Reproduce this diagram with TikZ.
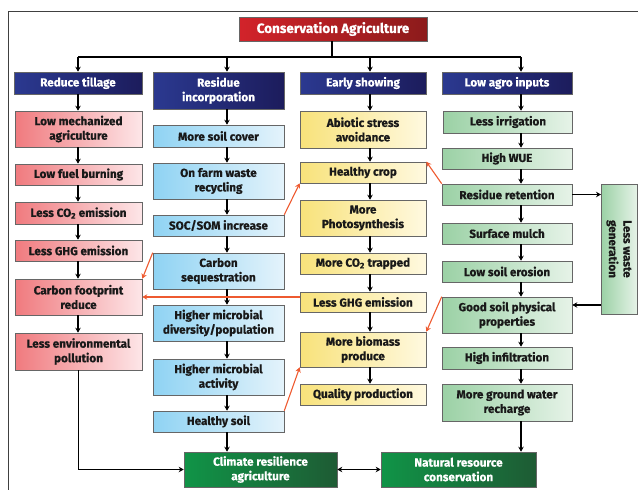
\documentclass[tikz,border=0pt]{standalone}
\usepackage{fontspec}
\setmainfont{Fira Sans}[BoldFeatures={FakeBold=0.6}]
\usetikzlibrary{arrows.meta}
\definecolor{tl}{HTML}{D2232A}\definecolor{tr}{HTML}{8C1B1B}
\definecolor{hl}{HTML}{2B3990}\definecolor{hr}{HTML}{1C1C5C}
\definecolor{rl}{HTML}{F07A7E}\definecolor{rr}{HTML}{FDE6E8}
\definecolor{bl}{HTML}{8FD3F3}\definecolor{br}{HTML}{E4F3FB}
\definecolor{yl}{HTML}{F8E27A}\definecolor{yr}{HTML}{FFF9E0}
\definecolor{gl}{HTML}{9BD1A5}\definecolor{gr}{HTML}{E6F3E8}
\definecolor{dl}{HTML}{109447}\definecolor{dr}{HTML}{1E5B34}
\definecolor{orng}{HTML}{EE5A30}
\newcommand\bx[7]{\node[#6, minimum width=#4pt, minimum height=#5pt] (#1) at (#2,#3) {#7};}
\tikzset{
 box/.style={draw=black!60, line width=0.6pt, align=center, inner sep=0pt,
   font=\bfseries\fontsize{11.7}{14.5}\selectfont, text=black!90},
 titleb/.style={box, left color=tl, right color=tr, text=white, font=\bfseries\fontsize{13.5}{16}\selectfont},
 headb/.style={box, left color=hl, right color=hr, text=white},
 redb/.style={box, left color=rl, right color=rr},
 blueb/.style={box, left color=bl, right color=br},
 yelb/.style={box, left color=yl, right color=yr},
 grnb/.style={box, left color=gl, right color=gr},
 dgrb/.style={box, left color=dl, right color=dr, text=white},
 arr/.style={line width=1.1pt, -{Stealth[length=5pt,width=5.5pt]}},
 oarr/.style={line width=1.1pt, draw=orng, -{Stealth[length=5pt,width=5.5pt]}, orng},
}
\begin{document}
\begin{tikzpicture}[x=1pt,y=-1pt]
\useasboundingbox (0,0) rectangle (638,490);
\draw[black!75, line width=0.8pt] (8,495) -- (8,11) -- (645,11);
\coordinate (c1) at (78,0);
\coordinate (c2) at (227,0);
\coordinate (c3) at (370,0);
\coordinate (c4) at (521,0);
\coordinate (bus) at (0,57);
% title
\bx{title}{333}{29}{188}{24}{titleb}{Conservation Agriculture}
% headers
\bx{h1}{78}{83}{128}{22}{headb}{Reduce tillage}
\bx{h2}{218.5}{90.5}{131}{37}{headb}{Residue\\incorporation}
\bx{h3}{363}{83}{126}{22}{headb}{Early showing}
\bx{h4}{507}{83}{130}{22}{headb}{Low agro inputs}
% column 1
\bx{lowmech}{78.5}{129}{127}{36}{redb}{Low mechanized\\agriculture}
\bx{lowfuel}{78.5}{174.5}{127}{21}{redb}{Low fuel burning}
\bx{lessco}{78.5}{213}{127}{22}{redb}{Less CO\textsubscript{2} emission}
\bx{ghga}{78.5}{250.5}{127}{21}{redb}{Less GHG emission}
\bx{carbfoot}{78.5}{297}{127}{36}{redb}{Carbon footprint\\reduce}
\bx{lessenv}{78.5}{351.5}{127}{37}{redb}{Less environmental\\pollution}
% column 2
\bx{soilcover}{218.5}{136}{131}{22}{blueb}{More soil cover}
\bx{farmwaste}{218.5}{181}{131}{36}{blueb}{On farm waste\\recycling}
\bx{socsom}{218.5}{225.5}{131}{21}{blueb}{SOC/SOM increase}
\bx{carbseq}{218.5}{271}{131}{36}{blueb}{Carbon\\sequestration}
\bx{microdiv}{218.5}{323}{131}{36}{blueb}{Higher microbial\\diversity/population}
\bx{microact}{218.5}{377}{131}{36}{blueb}{Higher microbial\\activity}
\bx{hsoil}{218.5}{421.5}{131}{21}{blueb}{Healthy soil}
% column 3
\bx{abiotic}{363}{129.5}{126}{37}{yelb}{Abiotic stress\\avoidance}
\bx{hcrop}{363}{172.5}{126}{21}{yelb}{Healthy crop}
\bx{photo}{363}{218}{126}{36}{yelb}{More\\Photosynthesis}
\bx{cotrap}{363}{263.5}{126}{21}{yelb}{More CO\textsubscript{2} trapped}
\bx{ghgb}{363}{302}{126}{20}{yelb}{Less GHG emission}
\bx{biomass}{363}{349.5}{126}{35}{yelb}{More biomass\\produce}
\bx{quality}{363}{394.5}{126}{21}{yelb}{Quality production}
% column 4
\bx{lessirr}{508}{122}{129}{22}{grnb}{Less irrigation}
\bx{wue}{507}{158.5}{130}{21}{grnb}{High WUE}
\bx{residue}{507}{194.5}{130}{21}{grnb}{Residue retention}
\bx{mulch}{507}{233.5}{130}{21}{grnb}{Surface mulch}
\bx{erosion}{507}{271.5}{130}{21}{grnb}{Low soil erosion}
\bx{goodsoil}{507}{315}{130}{36}{grnb}{Good soil physical\\properties}
\bx{infil}{507}{358}{130}{22}{grnb}{High infiltration}
\bx{ground}{507}{402.5}{130}{37}{grnb}{More ground water\\recharge}
\node[grnb, rotate=-90, minimum width=130pt, minimum height=36pt] (waste) at (619,249) {Less waste\\generation};
% bottom
\bx{climate}{260.5}{469.5}{153}{35}{dgrb}{Climate resilience\\agriculture}
\bx{nrc}{458.5}{469.5}{155}{35}{dgrb}{Natural resource\\conservation}
% bus
\draw[line width=1.1pt] (title.south -| 332,0) -- (332,57);
\draw[line width=1.1pt] (c1 |- bus) -- (c4 |- bus);
\foreach \c/\h in {c1/h1,c2/h2,c3/h3,c4/h4}
  \draw[arr] (\c |- bus) -- (\h.north -| \c);
% column chains
\foreach \a/\b in {h1/lowmech,lowmech/lowfuel,lowfuel/lessco,lessco/ghga,ghga/carbfoot,carbfoot/lessenv}
  \draw[arr] (\a.south -| c1) -- (\b.north -| c1);
\foreach \a/\b in {h2/soilcover,soilcover/farmwaste,farmwaste/socsom,socsom/carbseq,carbseq/microdiv,microdiv/microact,microact/hsoil,hsoil/climate}
  \draw[arr] (\a.south -| c2) -- (\b.north -| c2);
\foreach \a/\b in {h3/abiotic,abiotic/hcrop,hcrop/photo,photo/cotrap,cotrap/ghgb,ghgb/biomass,biomass/quality}
  \draw[arr] (\a.south -| c3) -- (\b.north -| c3);
\foreach \a/\b in {h4/lessirr,lessirr/wue,wue/residue,residue/mulch,mulch/erosion,erosion/goodsoil,goodsoil/infil,infil/ground,ground/nrc}
  \draw[arr] (\a.south -| c4) -- (\b.north -| c4);
% side arrows
\coordinate (wl) at (601,0);
\coordinate (w2) at (601,305);
\draw[arr] (residue.east) -- (residue.east -| wl);
\draw[arr] (w2) -- (w2 -| goodsoil.east);
\draw[arr] (lessenv.south) |- (climate.west);
\draw[line width=1.1pt, {Stealth[length=5pt,width=5.5pt]}-{Stealth[length=5pt,width=5.5pt]}] (climate.east) -- (nrc.west);
% orange arrows
\draw[oarr] (socsom.north east) -- (hcrop.south west);
\draw[oarr] (residue.north west) -- (hcrop.north east);
\draw[oarr] (carbseq.north west) -- (carbfoot.north east);
\draw[oarr] (carbfoot.east -| ghgb.west) -- (carbfoot.east);
\draw[oarr] (goodsoil.north west) -- (biomass.north east);
\draw[oarr] (hsoil.north east) -- (biomass.south west);
\end{tikzpicture}
\end{document}
